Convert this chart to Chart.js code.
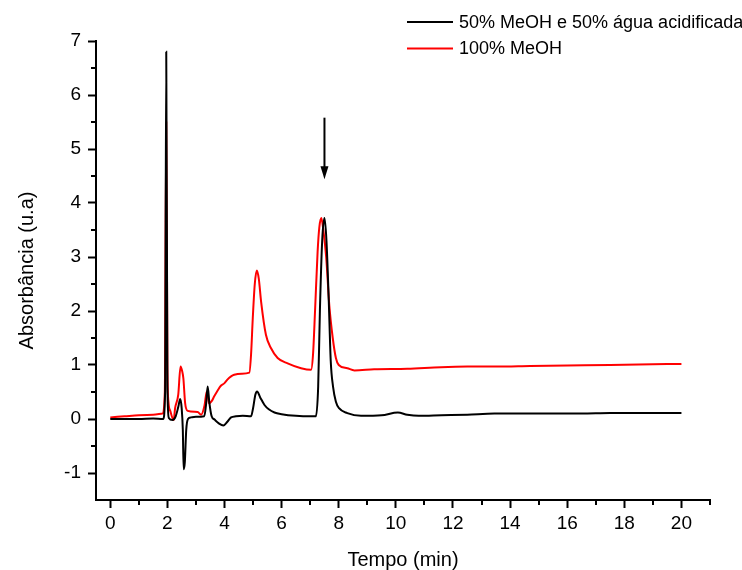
<!DOCTYPE html>
<html>
<head>
<meta charset="utf-8">
<script src="https://cdn.jsdelivr.net/npm/chart.js@4.4.0/dist/chart.umd.min.js"></script>
<style>
  html, body { margin: 0; padding: 0; background: #fff; }
  #wrap { width: 742px; height: 570px; }
</style>
</head>
<body>
<div id="wrap"><canvas id="chart"></canvas></div>
<script>
// 50% MeOH e 50% água acidificada
const tempoBlack = [0, 0.5, 1.0, 1.5, 1.85, 1.92, 1.96, 2.0, 2.05, 2.18, 2.29, 2.38, 2.45, 2.5, 2.54, 2.57, 2.61, 2.66, 2.72, 2.83, 3.0, 3.29, 3.36, 3.41, 3.47, 3.55, 3.65, 3.8, 3.96, 4.1, 4.23, 4.4, 4.64, 4.93, 5.0, 5.08, 5.14, 5.25, 5.4, 5.55, 5.75, 6.0, 6.5, 7.0, 7.2, 7.28, 7.34, 7.42, 7.5, 7.57, 7.65, 7.72, 7.8, 7.9, 8.01, 8.3, 8.78, 9.5, 10.07, 10.4, 10.8, 11.6, 12.5, 13.45, 14.5, 15.5, 16.5, 17.5, 18.5, 20];
const absBlack = [0, 0, 0, 0.01, 0, 0.5, 6.8, 0.6, 0.02, -0.02, 0.05, 0.22, 0.37, 0.2, -0.2, -0.93, -0.8, -0.2, 0, 0.03, 0.04, 0.05, 0.3, 0.6, 0.3, 0.05, -0.01, -0.08, -0.12, -0.05, 0.03, 0.05, 0.06, 0.05, 0.2, 0.45, 0.51, 0.4, 0.26, 0.18, 0.12, 0.09, 0.06, 0.05, 0.05, 0.6, 2.0, 3.3, 3.72, 3.3, 2.2, 1.07, 0.6, 0.32, 0.2, 0.11, 0.06, 0.07, 0.12, 0.08, 0.06, 0.07, 0.08, 0.1, 0.1, 0.1, 0.1, 0.11, 0.11, 0.11];

// 100% MeOH
const tempoRed = [0, 0.5, 1.0, 1.5, 1.83, 1.91, 1.96, 2.0, 2.04, 2.1, 2.22, 2.27, 2.38, 2.46, 2.52, 2.56, 2.62, 2.71, 3.06, 3.18, 3.3, 3.38, 3.46, 3.55, 3.64, 3.75, 3.88, 3.99, 4.1, 4.23, 4.34, 4.6, 4.87, 4.93, 4.99, 5.06, 5.13, 5.2, 5.28, 5.45, 5.63, 5.86, 6.21, 6.68, 7.03, 7.1, 7.17, 7.26, 7.32, 7.39, 7.46, 7.56, 7.67, 7.79, 7.9, 8.0, 8.3, 8.55, 9.24, 10.4, 11.58, 12.5, 13.5, 14.7, 16.0, 17.5, 18.5, 20];
const absRed = [0.03, 0.05, 0.07, 0.08, 0.1, 0.5, 5.49, 1.0, 0.3, 0.15, -0.02, 0.2, 0.45, 0.97, 0.88, 0.75, 0.3, 0.15, 0.13, 0.08, 0.25, 0.51, 0.29, 0.33, 0.42, 0.52, 0.62, 0.66, 0.73, 0.79, 0.82, 0.84, 0.86, 1.2, 1.87, 2.5, 2.75, 2.6, 2.18, 1.56, 1.31, 1.13, 1.03, 0.94, 0.91, 1.2, 2.0, 3.1, 3.55, 3.72, 3.5, 3.0, 2.1, 1.5, 1.13, 1.0, 0.94, 0.9, 0.92, 0.93, 0.96, 0.97, 0.97, 0.98, 0.99, 1.0, 1.01, 1.02];

const seriesLabels = ['50% MeOH e 50% água acidificada', '100% MeOH'];
const xMajorTicks = [0, 2, 4, 6, 8, 10, 12, 14, 16, 18, 20];
const xMinorTicks = [1, 3, 5, 7, 9, 11, 13, 15, 17, 19, 21];
const yMajorTicks = [-1, 0, 1, 2, 3, 4, 5, 6, 7];
const yMinorTicks = [-0.5, 0.5, 1.5, 2.5, 3.5, 4.5, 5.5, 6.5];

// arrow marking the peak (min, from / to absorbance)
const arrowTempo = 7.5;
const arrowFrom = 5.58;
const arrowTo = 4.44;

const pairs = (xs, ys) => xs.map((x, i) => ({ x: x, y: ys[i] }));

Chart.defaults.font.family = "'Liberation Sans', Arial, sans-serif";
Chart.defaults.color = '#000';

const extras = {
    id: 'extras',
    afterDraw(chart) {
        const ctx = chart.ctx;
        const xs = chart.scales.x, ys = chart.scales.y;
        const area = chart.chartArea;
        ctx.save();
        ctx.strokeStyle = '#000';
        ctx.lineWidth = 2;
        // minor ticks
        ctx.beginPath();
        xMinorTicks.forEach(v => {
            const px = Math.round(xs.getPixelForValue(v));
            ctx.moveTo(px, area.bottom);
            ctx.lineTo(px, area.bottom + 5);
        });
        yMinorTicks.forEach(v => {
            const py = Math.round(ys.getPixelForValue(v));
            ctx.moveTo(area.left - 5, py);
            ctx.lineTo(area.left, py);
        });
        ctx.stroke();

        // arrow
        const ax = xs.getPixelForValue(arrowTempo);
        const a0 = ys.getPixelForValue(arrowFrom);
        const a1 = ys.getPixelForValue(arrowTo);
        ctx.beginPath();
        ctx.moveTo(ax, a0);
        ctx.lineTo(ax, a1 - 10);
        ctx.stroke();
        ctx.fillStyle = '#000';
        ctx.beginPath();
        ctx.moveTo(ax - 4, a1 - 13);
        ctx.lineTo(ax + 4, a1 - 13);
        ctx.lineTo(ax, a1);
        ctx.closePath();
        ctx.fill();

        // legend
        ctx.font = "18px 'Liberation Sans', Arial, sans-serif";
        ctx.textBaseline = 'middle';
        ctx.textAlign = 'left';
        chart.data.datasets.forEach((ds, i) => {
            const y = 22 + i * 26.5;
            ctx.strokeStyle = ds.borderColor;
            ctx.beginPath();
            ctx.moveTo(407, y);
            ctx.lineTo(453, y);
            ctx.stroke();
            ctx.fillStyle = '#000';
            ctx.fillText(ds.label, 459, y + 1);
        });
        ctx.restore();
    }
};

new Chart(document.getElementById('chart'), {
    type: 'line',
    data: {
        datasets: [
            {
                label: seriesLabels[0],
                data: pairs(tempoBlack, absBlack),
                borderColor: '#000000',
                borderWidth: 2,
                pointRadius: 0,
                cubicInterpolationMode: 'monotone'
            },
            {
                label: seriesLabels[1],
                data: pairs(tempoRed, absRed),
                borderColor: '#ff0000',
                borderWidth: 2,
                pointRadius: 0,
                cubicInterpolationMode: 'monotone'
            }
        ]
    },
    options: {
        responsive: true,
        maintainAspectRatio: false,
        animation: false,
        layout: { padding: { top: 41, right: 32, left: 0, bottom: 0 } },
        plugins: {
            legend: { display: false },
            tooltip: { enabled: false }
        },
        scales: {
            x: {
                type: 'linear',
                min: -0.5,
                max: 21,
                afterBuildTicks: s => { s.ticks = xMajorTicks.map(v => ({ value: v })); },
                afterFit: s => { s.height = 70; },
                grid: { drawOnChartArea: false, tickLength: 8, tickWidth: 2, tickColor: '#000' },
                border: { color: '#000', width: 2 },
                ticks: { font: { size: 19 }, padding: 4, maxRotation: 0 },
                title: {
                    display: true,
                    text: 'Tempo (min)',
                    font: { size: 20, lineHeight: 1 },
                    padding: { top: 0, bottom: 0 }
                }
            },
            y: {
                type: 'linear',
                min: -1.5,
                max: 7,
                afterBuildTicks: s => { s.ticks = yMajorTicks.map(v => ({ value: v })); },
                afterFit: s => { s.width = 96; },
                grid: { drawOnChartArea: false, tickLength: 8, tickWidth: 2, tickColor: '#000' },
                border: { color: '#000', width: 2 },
                ticks: { font: { size: 19 }, padding: 7 },
                title: {
                    display: true,
                    text: 'Absorbância (u.a)',
                    font: { size: 20, lineHeight: 1 },
                    padding: { top: 17, bottom: 0 }
                }
            }
        }
    },
    plugins: [extras]
});
</script>
</body>
</html>
